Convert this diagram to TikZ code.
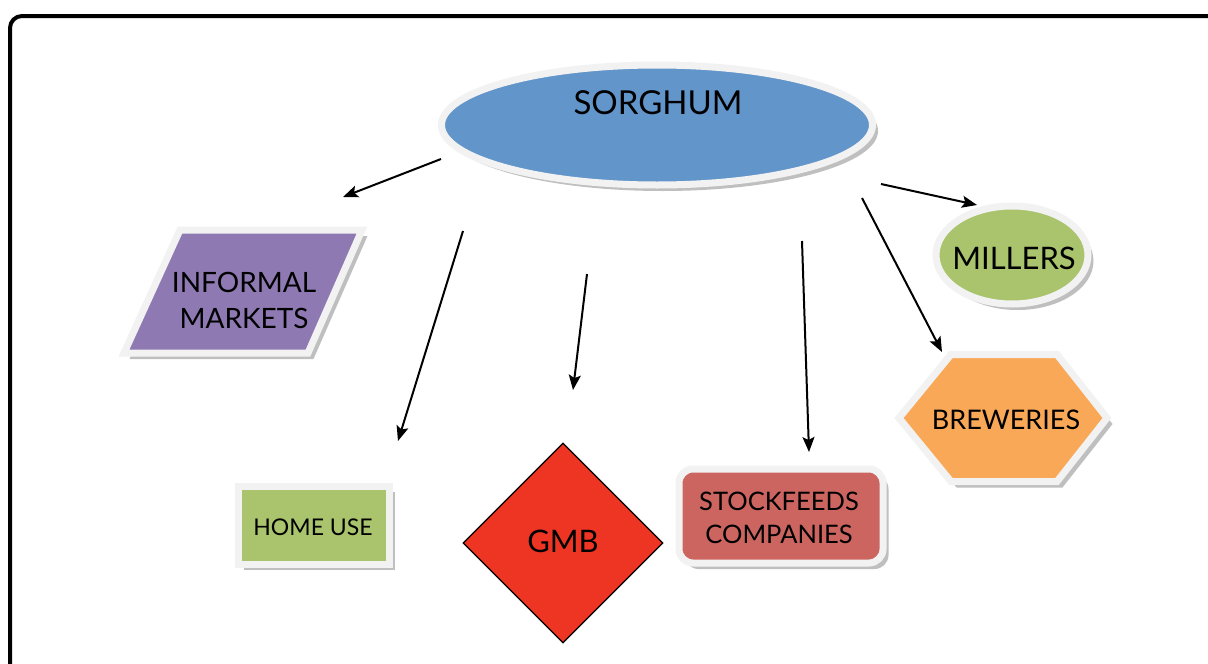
\documentclass[tikz,border=0pt]{standalone}
\usepackage{fontspec}
\setmainfont{Lato}
\usetikzlibrary{shapes.geometric,shadows,arrows.meta}
\definecolor{sblue}{RGB}{98,149,201}
\definecolor{spurple}{RGB}{142,121,178}
\definecolor{sgreen}{RGB}{169,196,108}
\definecolor{sred}{RGB}{238,53,36}
\definecolor{srose}{RGB}{204,101,96}
\definecolor{sorange}{RGB}{249,168,87}
\definecolor{rimgray}{RGB}{242,242,242}
\begin{document}
\begin{tikzpicture}[x=1pt,y=-1pt,
  rim/.style={draw=rimgray,line width=7pt,line join=miter,
    drop shadow={shadow xshift=5.5pt,shadow yshift=-6pt,opacity=0.45,fill=black!55}},
  lbl/.style={text=black,align=center,inner sep=0pt},
  arr/.style={line width=2pt,-{Stealth[length=15pt,width=12pt,inset=3pt]}}]
\useasboundingbox (0,0) rectangle (1208,664);
\clip (0,0) rectangle (1208,664);
\fill[white] (0,0) rectangle (1208,664);
% frame
\draw[line width=4pt,rounded corners=12pt] (10,16) rectangle (1240,700);

% SORGHUM
\node[ellipse,rim,fill=sblue,minimum width=431pt,minimum height=120pt,inner sep=0pt] (sorghum) at (657,125) {};
\node[lbl,font=\fontsize{33}{38}\selectfont] (sorghumt) at (658,103) {SORGHUM};

% INFORMAL MARKETS
\path[rim,fill=spurple] (180,230) -- (362,230) -- (308,353) -- (124,353) -- cycle;
\node[lbl,font=\fontsize{28}{36}\selectfont] (informal) at (244,300) {INFORMAL\\MARKETS};

% HOME USE
\node[rectangle,rim,fill=sgreen,minimum width=151pt,minimum height=78pt,inner sep=0pt] (homebox) at (314,525) {};
\node[lbl,font=\fontsize{23}{26}\selectfont] (home) at (313,527) {HOME USE};

% GMB
\node[diamond,draw=black,line width=1.2pt,fill=sred,minimum width=200pt,minimum height=200pt,inner sep=0pt] (gmbbox) at (563,543) {};
\node[lbl,font=\fontsize{31}{34}\selectfont] (gmb) at (563,541) {GMB};

% STOCKFEEDS
\node[rectangle,rounded corners=14pt,rim,fill=srose,minimum width=204pt,minimum height=94pt,inner sep=0pt] (stockbox) at (781,516) {};
\node[lbl,font=\fontsize{25.5}{33}\selectfont] (stock) at (779,518) {STOCKFEEDS\\COMPANIES};

% MILLERS
\node[ellipse,rim,fill=sgreen,minimum width=152pt,minimum height=98pt,inner sep=0pt] (millbox) at (1012,255) {};
\node[lbl,font=\fontsize{31}{34}\selectfont] (millers) at (1014,258) {MILLERS};

% BREWERIES
\path[rim,fill=sorange] (951,354.5) -- (1057,354.5) -- (1107,418) -- (1057,481.5) -- (951,481.5) -- (899,418) -- cycle;
\node[lbl,font=\fontsize{27}{30}\selectfont] (brew) at (1006,420) {BREWERIES};

% arrow ends
\coordinate (a1s) at (441,159); \coordinate (a1e) at (343,197);
\coordinate (a2s) at (463,231); \coordinate (a2e) at (398,441);
\coordinate (a3s) at (587,274); \coordinate (a3e) at (573,390);
\coordinate (a4s) at (802,241); \coordinate (a4e) at (809,452);
\coordinate (a5s) at (862,198); \coordinate (a5e) at (942,352);
\coordinate (a6s) at (881,184); \coordinate (a6e) at (977,205);
\draw[arr] (a1s) -- (a1e);
\draw[arr] (a2s) -- (a2e);
\draw[arr] (a3s) -- (a3e);
\draw[arr] (a4s) -- (a4e);
\draw[arr] (a5s) -- (a5e);
\draw[arr] (a6s) -- (a6e);
\end{tikzpicture}
\end{document}
